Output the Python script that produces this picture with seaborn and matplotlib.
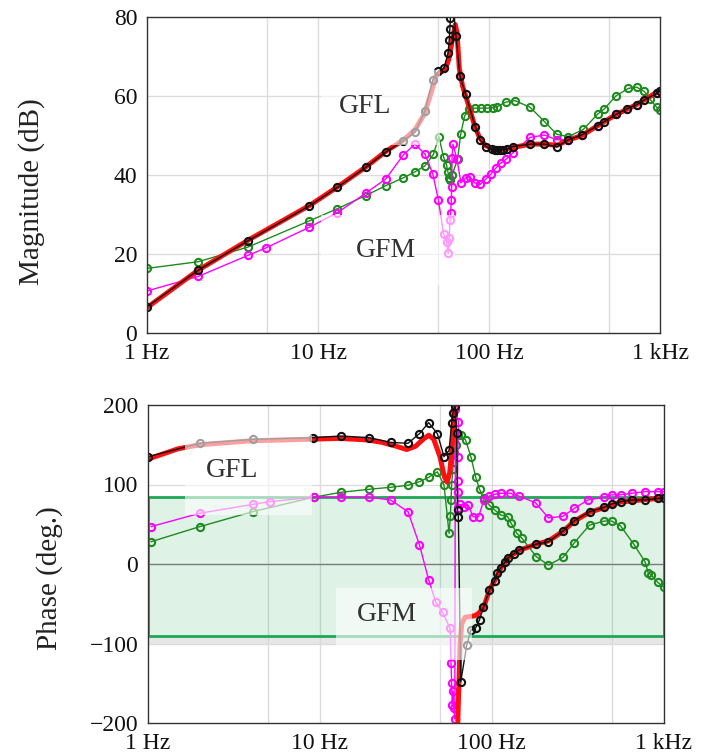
import numpy as np
import pandas as pd
import matplotlib
matplotlib.use("Agg")
import matplotlib.pyplot as plt
import seaborn as sns
from matplotlib.patches import Rectangle
from matplotlib.ticker import NullLocator, MultipleLocator, FixedLocator

# ---------------- data ----------------
# Magnitude (dB)
red_mag_f = [1, 2, 4, 9, 13, 19, 25, 32, 37, 42, 46, 49, 52, 55, 58, 61, 63.5, 65, 67, 70, 73, 78, 83, 88, 95,
             105, 120, 140, 175, 210, 250, 290, 350, 430, 550, 730, 1000]
red_mag_db = [6.5, 16, 23.8, 32.4, 37, 42, 46, 49, 51.5, 55.5, 61, 65, 66, 66.5, 69, 74, 78, 76, 67, 62.5, 60, 56, 52,
              49.5, 47.5, 46.6, 46.5, 47, 47.8, 47.8, 47.5, 48.8, 50, 52.4, 55.2, 57.8, 61.4]

blk_mag_f = [1.0, 2.0, 3.9, 8.9, 13.0, 19.0, 24.9, 31.6, 36.9, 42.2, 46.9, 50.6, 54.6, 57.6, 58.5, 59.0, 59.5, 61.5,
             64.1, 67.7, 73.0, 83.2, 88.6, 96, 104, 108, 112, 116, 121, 127, 138, 174, 211, 249, 291, 348, 432, 472,
             553, 644, 731, 810, 957, 1000]
blk_mag_db = [6.7, 16.0, 23.4, 32.2, 36.9, 41.9, 45.8, 48.7, 50.8, 56.2, 64.0, 66.2, 67.0, 70.8, 74.0, 76.9, 79.7, 84,
              75.0, 64.9, 60.4, 52.2, 48.9, 47.2, 46.5, 46.3, 46.3, 46.3, 46.4, 46.5, 47.2, 47.8, 47.8, 47.1, 48.9,
              50.1, 52.5, 53.5, 55.3, 56.8, 57.8, 59.0, 60.6, 61.3]

mag_mag_f = [1.0, 2.0, 3.9, 4.97, 8.9, 13.0, 19.0, 24.9, 31.6, 36.9, 42.2, 46.9, 50.6, 54.2, 56.5, 57.7, 58.5, 59.2,
             59.7, 60.2, 60.5, 60.8, 61.5, 65, 68.5, 73.1, 77.4, 82.6, 88.6, 96, 103, 110, 117, 126, 138, 174, 211,
             249, 291, 348, 432, 553, 731, 957, 1000]
mag_mag_db = [10.7, 14.4, 19.7, 21.6, 26.8, 30.5, 35.4, 39.0, 45.1, 47.8, 45.3, 40.3, 33.7, 25.2, 23.1, 20.2, 24.0,
              28.6, 30.4, 33.7, 37.0, 44.3, 47.8, 44, 38, 39.3, 39.5, 38, 37.6, 39, 40.3, 41.8, 43, 44, 45.6, 49.5,
              50.1, 48.9, 48.9, 50.1, 52.5, 55.3, 57.8, 60.6, 61.3]

grn_mag_f = [1.0, 2.0, 3.9, 8.9, 13.0, 19.0, 24.9, 31.6, 36.9, 42.2, 47.3, 50.9, 54.2, 56.5, 57.5, 58.5, 59.5, 61,
             65.5, 68.3, 72, 76.7, 82.6, 90, 98, 105, 112, 125, 142, 174, 211, 249, 291, 356, 432, 472, 553, 654,
             731, 810, 875, 957, 1000]
grn_mag_db = [16.4, 18.1, 21.8, 28.4, 31.5, 34.8, 37.3, 39.3, 40.8, 42.3, 45.2, 49.7, 44.6, 42.5, 40.8, 39.2, 38.8,
              40.1, 44, 50.3, 54.9, 56.6, 56.9, 56.9, 56.9, 57.0, 57.3, 58.4, 58.8, 57.1, 53.5, 50.3, 49.7, 51.5,
              55.4, 56.7, 60.0, 61.9, 62.2, 61.1, 59.1, 57.1, 56.5]

# Phase (deg.)
red_ph_f_a = [1, 1.5, 2, 4, 9, 13, 19, 23, 28, 32, 36, 40, 43, 46, 50, 53, 55, 57, 59, 60.5]
red_ph_a = [132, 145, 150, 155, 157, 158, 156, 153, 148, 144, 148, 157, 162, 157, 135, 110, 103, 115, 150, 200]
red_ph_f_b = [63.5, 64.5, 65.5, 67, 70, 75, 80, 84, 90, 97, 104, 113, 125, 144, 182, 214, 260, 303, 371, 452, 563,
              780, 1000]
red_ph_b = [-200, -150, -100, -75, -67, -66, -65, -62, -54, -33, -21, -5, 8, 17, 25, 29, 41, 54, 65, 71, 78, 81, 83]

blk_ph_f = [1.0, 2.0, 4.1, 9.1, 13.3, 19.4, 25.8, 32.6, 38, 43, 48.3, 52.8, 56.5, 58.5, 59.5, 61.3, 62.5, 63.3, 64,
            66.1, 71.6, 75.7, 80.8, 85, 89.5, 97, 104, 108, 113, 119, 125, 135, 144, 182, 214, 260, 303, 371, 452,
            499, 563, 654, 780, 935, 1000]
blk_ph = [135, 151.8, 156.8, 158.9, 161, 158.9, 153, 151.8, 164, 177.8, 164, 135, 143, 177, 189.6, 198.7, 165, 68,
          59, -148, -102, -83, -80, -70, -54.5, -32.7, -21, -11, -5, 2, 8, 13, 17.6, 25, 28, 41.5, 54.5, 65.8, 71.3,
          75.5, 78.4, 80.5, 80.5, 82.6, 83]

mag_ph_f = [1.04, 2.0, 4.06, 5.1, 9.2, 13.3, 19.4, 25.8, 32.6, 38, 43, 47.3, 51.9, 57.3, 58, 58.5, 59, 59.5, 60,
            61.0, 61.5, 64, 63.5, 63.3, 63.8, 63.5, 65, 69, 73, 78, 84, 90, 97, 104, 113, 128, 144, 180, 214, 260,
            303, 363, 452, 499, 563, 654, 780, 935, 1000]
mag_ph = [47, 63.8, 75, 78.4, 83.9, 84, 84, 80.5, 65.8, 24, -20, -48, -61, -81, -125, -150, -177, -160, -181, -195,
          195, 179, 135, 105, 90, 70, 75, 72, 74, 59.5, 59.5, 80.5, 85.5, 87.7, 89, 89, 85.5, 77, 58, 60, 70, 80.5,
          84, 87, 87, 89, 91, 91, 91]

grn_ph_f = [1.04, 2.0, 4.06, 9.2, 13.3, 19.4, 25.8, 32.6, 38, 43, 48.3, 52.8, 56.5, 57.5, 58, 58.5, 59.5, 60.5, 62,
            64, 66.5, 70.5, 75.7, 80.8, 85, 90, 97, 104, 113, 124, 130, 140, 150, 182, 214, 260, 303, 371, 452, 499,
            563, 671, 780, 815, 850, 925, 1000]
grn_ph = [28, 47, 65.8, 84, 90.2, 94, 96.5, 99, 103.5, 109, 116, 99.4, 38.6, 60, 80, 100, 120, 140, 150, 162, 162,
          156, 135, 109, 94, 82.6, 74, 68, 61.6, 59.5, 51, 38.6, 32.3, 9.2, -1.3, 8.4, 26.8, 49, 54, 54, 47.8, 25, 3,
          -11, -14, -23, -29]

x_tick_vals = [1, 10, 100, 1000]
x_tick_labels = ["1 Hz", "10 Hz", "100 Hz", "1 kHz"]
mag_ticks = [0, 20, 40, 60, 80]
mag_tick_labels = ["0", "20", "40", "60", "80"]
ph_ticks = [-200, -100, 0, 100, 200]
ph_tick_labels = ["\u2212200", "\u2212100", "0", "100", "200"]

# ---------------- style ----------------
sns.set_theme(style="white")
plt.rcParams["font.family"] = ["Liberation Serif", "DejaVu Serif"]

RED = "#ff1010"
BLK = "#111111"
MAG = "#ff00ff"
GRN = "#1f8a1f"
GRID = "#dcdcdc"

fig = plt.figure(figsize=(7.03, 7.56), dpi=100)
ax1 = fig.add_axes([147 / 703, 1 - 333.3 / 756, (660 - 147) / 703, (333.3 - 16.7) / 756])
ax2 = fig.add_axes([148 / 703, 1 - 723 / 756, (663.5 - 148) / 703, (723 - 405) / 756])


def mk(ax, f, y, color, z, lw=1.0, marker=True):
    df = pd.DataFrame({"f": f, "y": y})
    kw = dict(data=df, x="f", y="y", ax=ax, color=color, sort=False, estimator=None,
              legend=False, zorder=z, linewidth=lw)
    if marker:
        kw.update(marker="o", markersize=5.2, markerfacecolor="none",
                  markeredgecolor=color, markeredgewidth=1.5)
    sns.lineplot(**kw)


def boxed(ax, x0, x1, y0, y1):
    ax.add_patch(Rectangle((x0, y0), x1 - x0, y1 - y0, facecolor=(1, 1, 1, 0.6),
                           edgecolor="none", zorder=6))


for ax in (ax1, ax2):
    ax.set_xscale("log")

# ---- magnitude ----
mk(ax1, grn_mag_f, grn_mag_db, GRN, 3)
mk(ax1, mag_mag_f, mag_mag_db, MAG, 3.2)
mk(ax1, red_mag_f, red_mag_db, RED, 4, lw=3.6, marker=False)
mk(ax1, blk_mag_f, blk_mag_db, BLK, 5)

# ---- phase ----
mk(ax2, grn_ph_f, grn_ph, GRN, 3)
mk(ax2, mag_ph_f, mag_ph, MAG, 3.2)
mk(ax2, red_ph_f_a, red_ph_a, RED, 4, lw=3.6, marker=False)
mk(ax2, red_ph_f_b, red_ph_b, RED, 4, lw=3.6, marker=False)
mk(ax2, blk_ph_f, blk_ph, BLK, 5)

# green stability region with shadow
ax2.add_patch(Rectangle((1, -100), 999, 10, facecolor="#d6d6d6", alpha=0.6, edgecolor="none", zorder=0.8))
ax2.add_patch(Rectangle((1, -90), 999, 174, facecolor=(40 / 255, 170 / 255, 90 / 255, 0.15),
                        edgecolor="#1ea755", linewidth=2.0, zorder=1))

# grids
for ax in (ax1, ax2):
    for gx in [5, 10, 50, 100, 500]:
        ax.axvline(gx, color=GRID, lw=1, zorder=0.5)
for gy in [20, 40, 60]:
    ax1.axhline(gy, color=GRID, lw=1, zorder=0.5)
for gy in [100, -100]:
    ax2.axhline(gy, color=GRID, lw=1, zorder=0.5)
ax2.axhline(0, color="#7a7a7a", lw=1, zorder=1.5)

# label boxes & text
boxed(ax1, 10.4, 51.5, 47.6, 66.6)
boxed(ax1, 10.4, 63, 12.2, 29.9)
boxed(ax2, 1.64, 9.0, 61.6, 162)
boxed(ax2, 12.4, 77, -121, -30)
tkw = dict(fontsize=20, color="#333333", ha="center", va="center", zorder=7)
ax1.text(18.8, 57.2, "GFL", **tkw)
ax1.text(25, 21, "GFM", **tkw)
ax2.text(3.08, 117, "GFL", **tkw)
ax2.text(24.6, -64, "GFM", **tkw)

# axes cosmetics
ax1.set_xlim(1, 1000)
ax1.set_ylim(0, 80)
ax2.set_xlim(1, 1000)
ax2.set_ylim(-200, 200)
for ax in (ax1, ax2):
    ax.xaxis.set_major_locator(FixedLocator(x_tick_vals))
    ax.set_xticklabels(x_tick_labels)
    ax.xaxis.set_minor_locator(NullLocator())
    ax.set_xlabel("")
    ax.set_ylabel("")
    ax.tick_params(axis="both", which="both", direction="in", length=5, width=0.9,
                   color="#333333", labelsize=17, labelcolor="#111111")
    ax.tick_params(axis="y", pad=7)
    ax.tick_params(axis="x", pad=7)
    for s in ax.spines.values():
        s.set_color("#333333")
        s.set_linewidth(1.0)
        s.set_zorder(8)
ax1.set_yticks(mag_ticks)
ax1.set_yticklabels(mag_tick_labels)
ax1.yaxis.set_minor_locator(MultipleLocator(5))
ax2.set_yticks(ph_ticks)
ax2.set_yticklabels(ph_tick_labels)
ax2.yaxis.set_minor_locator(MultipleLocator(20))

fig.text(32 / 703, 1 - 192 / 756, "Magnitude (dB)", rotation=90, ha="center", va="center",
         fontsize=21, color="#222222")
fig.text(50 / 703, 1 - 578 / 756, "Phase (deg.)", rotation=90, ha="center", va="center",
         fontsize=21, color="#222222")

fig.savefig("out.png", dpi=100)
